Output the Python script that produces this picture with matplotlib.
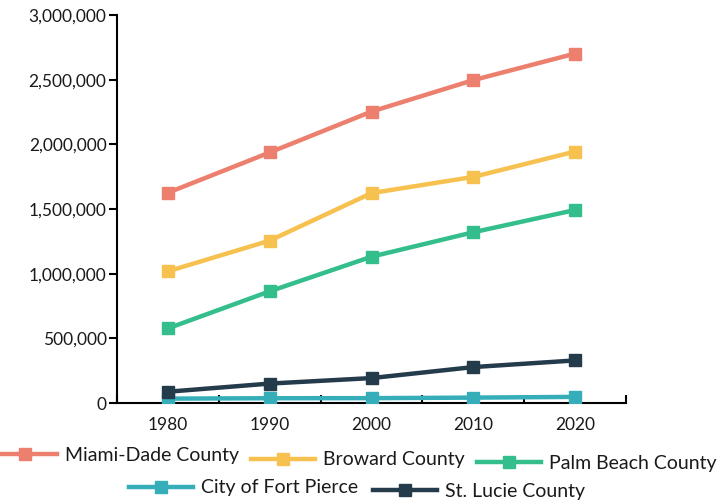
import matplotlib
matplotlib.use("Agg")
import matplotlib.pyplot as plt
from matplotlib.ticker import FuncFormatter, MultipleLocator
from matplotlib.lines import Line2D

plt.rcParams["font.family"] = ["Lato", "DejaVu Sans"]

years = [1980, 1990, 2000, 2010, 2020]
miami_dade = [1625781, 1937094, 2253362, 2496435, 2701767]
broward = [1018200, 1255488, 1623018, 1748066, 1944375]
palm_beach = [576863, 863518, 1131184, 1320134, 1492191]
fort_pierce = [33802, 36830, 37516, 41590, 47297]
st_lucie = [87182, 150171, 192695, 277789, 329226]

names = ["Miami-Dade County", "Broward County", "Palm Beach County",
         "City of Fort Pierce", "St. Lucie County"]
colors = ["#EC7F6D", "#F7C14F", "#33BE8C", "#35AEBA", "#243B4C"]
series = [miami_dade, broward, palm_beach, fort_pierce, st_lucie]

INK = "#1a1a1a"

fig = plt.figure(figsize=(7.2, 5.04), dpi=100)
ax = fig.add_axes([117 / 720, 1 - 403 / 504, (626 - 117) / 720, (403 - 15) / 504])

handles = []
for name, vals, c in zip(names, series, colors):
    h, = ax.plot(years, vals, color=c, lw=3.2, marker="s", ms=9,
                 solid_capstyle="butt", label=name, zorder=3)
    handles.append(h)

ax.set_xlim(1975, 2025)
ax.set_ylim(0, 3000000)
ax.yaxis.set_major_locator(MultipleLocator(500000))
ax.yaxis.set_major_formatter(FuncFormatter(lambda v, p: f"{int(v):,}"))
ax.set_xticks(years)
ax.set_xticks(range(1975, 2026, 10), minor=True)
ax.tick_params(axis="x", which="major", length=0, pad=10, labelsize=12.5, colors=INK)
ax.tick_params(axis="x", which="minor", direction="in", length=6, width=1.5, color="black")
ax.tick_params(axis="y", which="major", direction="out", length=6, width=1.5,
               pad=1.5, labelsize=12.5, color="black", labelcolor=INK)
for sp in ("top", "right"):
    ax.spines[sp].set_visible(False)
for sp in ("left", "bottom"):
    ax.spines[sp].set_linewidth(1.5)
    ax.spines[sp].set_color("black")

# legend entries, staggered like the source (left edge of handle, centre y in px)
spots = [(-7, 455), (251, 460), (477, 463), (129, 488), (373, 491)]
for h, (x, y) in zip(handles, spots):
    proxy = Line2D([], [], color=h.get_color(), lw=3.2, marker="s", ms=8)
    fig.legend(handles=[proxy], labels=[h.get_label()], loc="center left",
               bbox_to_anchor=(x / 720, 1 - y / 504), frameon=False,
               borderpad=0, borderaxespad=0, handlelength=3.3,
               handletextpad=0.4, fontsize=14, labelcolor=INK)

fig.savefig("out.png", dpi=100, facecolor="white")
